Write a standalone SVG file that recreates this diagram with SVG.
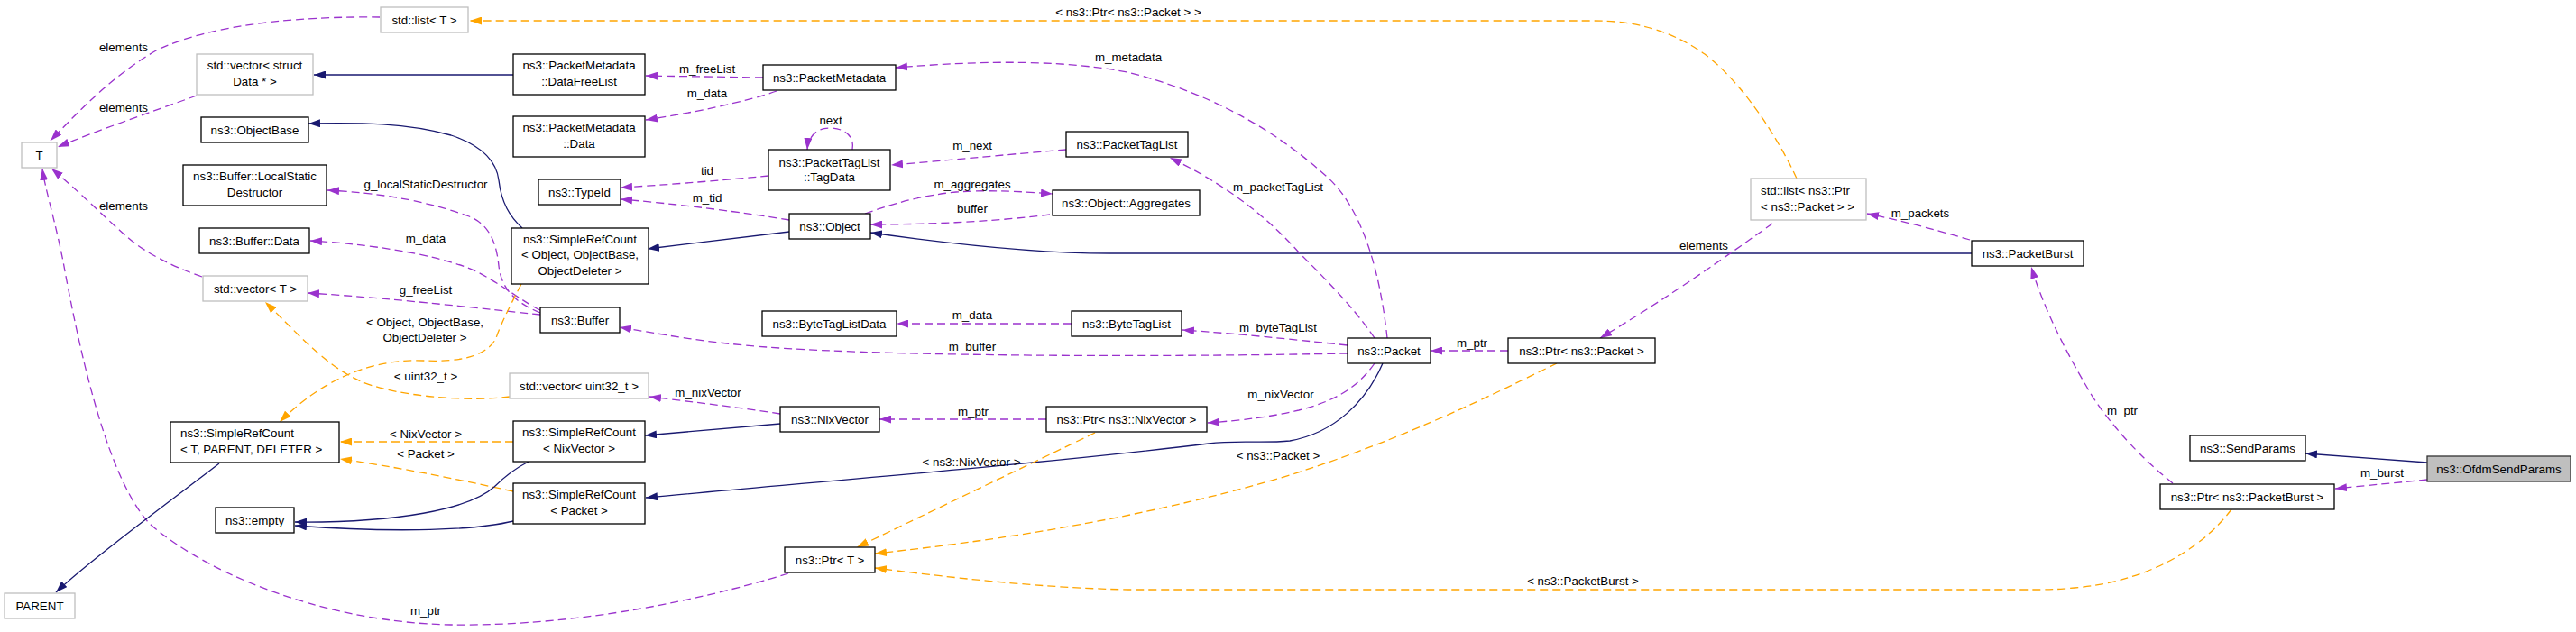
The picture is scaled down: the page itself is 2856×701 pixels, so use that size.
<svg xmlns="http://www.w3.org/2000/svg" width="2856" height="701" viewBox="0 0 2856 701">
<style>
text{font-family:"Liberation Sans",Arial,Helvetica,sans-serif;font-size:13.33px;fill:#000}
.c{text-anchor:middle}
.l{text-anchor:start}
rect{fill:#fff;stroke:#000;stroke-width:1.3}
.g rect{stroke:#bfbfbf}
.f rect{fill:#bfbfbf;stroke:#333}
.e path{fill:none;stroke-width:1.3}
path.p{stroke:#9a32cd;stroke-dasharray:9,5;marker-end:url(#ap)}
path.o{stroke:#ffa500;stroke-dasharray:9,5;marker-end:url(#ao)}
path.b{stroke:#191970;marker-end:url(#ab)}
</style>
<defs>
<marker id="ap" viewBox="0 0 13 9" refX="13" refY="4.5" markerUnits="userSpaceOnUse" markerWidth="13" markerHeight="9" orient="auto"><path d="M0,0 L13,4.5 L0,9 z" fill="#9a32cd"/></marker>
<marker id="ao" viewBox="0 0 13 9" refX="13" refY="4.5" markerUnits="userSpaceOnUse" markerWidth="13" markerHeight="9" orient="auto"><path d="M0,0 L13,4.5 L0,9 z" fill="#ffa500"/></marker>
<marker id="ab" viewBox="0 0 13 9" refX="13" refY="4.5" markerUnits="userSpaceOnUse" markerWidth="13" markerHeight="9" orient="auto"><path d="M0,0 L13,4.5 L0,9 z" fill="#191970"/></marker>
</defs>
<rect x="0" y="0" width="2856" height="701" style="fill:#fff;stroke:none"/>

<g id="connectors" class="e">
<path class="p" d="M421,19 C340,18 240,25 175,55 C130,80 90,120 56,156"/>
<path class="p" d="M218,106 C180,120 120,140 64,163"/>
<path class="p" d="M224,307 C190,295 160,280 140,262 C115,240 85,210 57,187"/>
<path class="p" d="M874,636 C780,665 640,695 500,693 C350,690 220,630 165,580 C120,530 90,400 70,290 C60,240 50,210 47,187"/>
<path class="p" d="M599,347 C570,335 556,320 553,295 C550,265 540,248 520,240 C470,222 420,214 363,211"/>
<path class="p" d="M599,344 C580,335 560,318 530,302 C500,287 430,272 344,267"/>
<path class="p" d="M599,349 C540,343 440,331 341,325"/>
<path class="p" d="M1494,392 C1300,396 1000,396 850,385 C780,380 730,370 687,363"/>
<path class="o" d="M578,315 C565,340 555,360 550,375 C540,395 510,402 470,400 C420,398 380,415 350,435 C335,445 320,458 310,468"/>
<path class="o" d="M565,440 C520,446 440,440 400,423 C360,405 330,370 294,335"/>
<path class="o" d="M569,490 L377,490"/>
<path class="o" d="M569,545 C500,530 440,518 377,509"/>
<path class="b" d="M243,514 C210,540 100,620 62,657"/>
<path class="b" d="M586,512 C570,520 558,530 548,540 C520,565 440,580 327,579"/>
<path class="b" d="M569,578 C520,590 420,590 327,583"/>
<path class="b" d="M579,253 C565,240 556,225 553,200 C550,175 530,160 500,150 C450,136 400,136 342,137"/>
<path class="b" d="M875,257 L718,276"/>
<path class="b" d="M2186,281 L1230,281 C1150,281 1050,270 965,258"/>
<path class="b" d="M865,470 L715,483"/>
<path class="b" d="M1533,403 C1515,445 1480,480 1430,489 C1400,492 1370,488 1340,492 C1150,515 900,535 716,552"/>
<path class="b" d="M2691,513 L2556,503"/>
<path class="b" d="M569,83 L348,83"/>
<path class="p" d="M846,86 L716,84"/>
<path class="p" d="M861,101 C830,112 770,125 716,133"/>
<path class="p" d="M945,166 C948,150 935,142 920,142 C905,142 896,152 895,166"/>
<path class="p" d="M852,195 C800,200 740,205 688,208"/>
<path class="p" d="M875,244 C820,235 750,226 688,221"/>
<path class="p" d="M1182,166 C1120,171 1050,178 988,183"/>
<path class="p" d="M959,237 C990,226 1020,217 1060,213 C1100,210 1140,213 1167,215"/>
<path class="p" d="M1164,238 C1100,246 1030,249 965,249"/>
<path class="p" d="M1538,375 C1530,300 1510,230 1470,195 C1420,150 1350,105 1250,80 C1170,65 1080,68 993,75"/>
<path class="p" d="M1524,375 C1500,340 1470,310 1440,280 C1400,235 1350,200 1297,175"/>
<path class="p" d="M1188,359 L994,359"/>
<path class="p" d="M1494,383 C1430,376 1370,370 1311,366"/>
<path class="p" d="M865,459 C820,452 770,446 720,440"/>
<path class="p" d="M1160,465 L975,465"/>
<path class="p" d="M1524,403 C1505,430 1480,445 1440,455 C1410,462 1380,466 1339,469"/>
<path class="p" d="M1672,389 L1586,389"/>
<path class="p" d="M1965,248 C1920,280 1850,330 1774,375"/>
<path class="p" d="M2184,266 C2150,256 2110,245 2070,237"/>
<path class="p" d="M2409,536 C2370,505 2340,470 2320,440 C2290,390 2265,340 2252,296"/>
<path class="p" d="M2691,532 L2589,542"/>
<path class="o" d="M1992,198 C1970,150 1930,90 1890,60 C1850,32 1810,23 1767,23 L521,23"/>
<path class="o" d="M1214,480 L950,607"/>
<path class="o" d="M1726,403 C1650,440 1550,490 1420,530 C1300,565 1150,595 970,614"/>
<path class="o" d="M2474,565 C2440,610 2380,645 2300,652 C2280,654 2270,654 2250,654 L1251,654 C1150,652 1050,640 970,630"/>
<g class="c">
<text x="137" y="57">elements</text>
<text x="137" y="123.5">elements</text>
<text x="137" y="232.5">elements</text>
<text x="472" y="681.5">m_ptr</text>
<text x="472" y="209">g_localStaticDestructor</text>
<text x="472" y="269">m_data</text>
<text x="472" y="325.5">g_freeList</text>
<text x="1078" y="389">m_buffer</text>
<text x="471" y="361.5">&lt; Object, ObjectBase,</text>
<text x="471" y="379">ObjectDeleter &gt;</text>
<text x="472" y="422">&lt; uint32_t &gt;</text>
<text x="472" y="485.5">&lt; NixVector &gt;</text>
<text x="472" y="508">&lt; Packet &gt;</text>
<text x="784" y="81">m_freeList</text>
<text x="784" y="107.5">m_data</text>
<text x="921" y="137.5">next</text>
<text x="784" y="193.5">tid</text>
<text x="784" y="223.5">m_tid</text>
<text x="1078" y="165.5">m_next</text>
<text x="1078" y="209">m_aggregates</text>
<text x="1078" y="236">buffer</text>
<text x="1251" y="68">m_metadata</text>
<text x="1417" y="211.5">m_packetTagList</text>
<text x="1078" y="354">m_data</text>
<text x="1417" y="367.5">m_byteTagList</text>
<text x="785" y="439.5">m_nixVector</text>
<text x="1079" y="461">m_ptr</text>
<text x="1420" y="441.5">m_nixVector</text>
<text x="1632" y="385">m_ptr</text>
<text x="1889" y="276.5">elements</text>
<text x="2129" y="240.5">m_packets</text>
<text x="2353" y="460">m_ptr</text>
<text x="2641" y="529">m_burst</text>
<text x="1251" y="17.5">&lt; ns3::Ptr&lt; ns3::Packet &gt; &gt;</text>
<text x="1077" y="516.5">&lt; ns3::NixVector &gt;</text>
<text x="1417" y="510">&lt; ns3::Packet &gt;</text>
<text x="1755" y="649">&lt; ns3::PacketBurst &gt;</text>
</g>
</g>

<g id="n_T" class="g"><rect x="24" y="158" width="39" height="28"/><text class="c" x="43.5" y="176.7">T</text></g>
<g id="n_PARENT" class="g"><rect x="5" y="658" width="78" height="28"/><text class="c" x="44" y="676.7">PARENT</text></g>
<g id="n_listT" class="g"><rect x="422" y="8" width="97" height="28"/><text class="c" x="470.5" y="26.7">std::list&lt; T &gt;</text></g>
<g id="n_vecData" class="g"><rect x="218" y="60" width="129" height="45"/><text class="c" x="282.5" y="77.4">std::vector&lt; struct</text><text class="c" x="282.5" y="94.7">Data * &gt;</text></g>
<g id="n_ObjectBase"><rect x="223" y="130" width="119" height="28"/><text class="c" x="282.5" y="148.7">ns3::ObjectBase</text></g>
<g id="n_LocalStaticDestructor"><rect x="203" y="183" width="159" height="45"/><text class="c" x="282.5" y="200.4">ns3::Buffer::LocalStatic</text><text class="c" x="282.5" y="217.7">Destructor</text></g>
<g id="n_BufferData"><rect x="221" y="253" width="122" height="28"/><text class="c" x="282" y="271.7">ns3::Buffer::Data</text></g>
<g id="n_vecT" class="g"><rect x="225" y="306" width="116" height="28"/><text class="c" x="283" y="324.7">std::vector&lt; T &gt;</text></g>
<g id="n_SimpleRefCountT"><rect x="189" y="468" width="187" height="45"/><text class="l" x="200" y="485.4">ns3::SimpleRefCount</text><text class="l" x="200" y="502.7">&lt; T, PARENT, DELETER &gt;</text></g>
<g id="n_empty"><rect x="239" y="563" width="87" height="28"/><text class="c" x="282.5" y="581.7">ns3::empty</text></g>
<g id="n_DataFreeList"><rect x="569" y="60" width="146" height="45"/><text class="c" x="642" y="77.4">ns3::PacketMetadata</text><text class="c" x="642" y="94.7">::DataFreeList</text></g>
<g id="n_PMData"><rect x="569" y="129" width="146" height="45"/><text class="c" x="642" y="146.4">ns3::PacketMetadata</text><text class="c" x="642" y="163.7">::Data</text></g>
<g id="n_TypeId"><rect x="597" y="199" width="91" height="28"/><text class="c" x="642.5" y="217.7">ns3::TypeId</text></g>
<g id="n_SimpleRefCountObject"><rect x="567" y="253" width="152" height="62"/><text class="c" x="643" y="270.4">ns3::SimpleRefCount</text><text class="c" x="643" y="287.4">&lt; Object, ObjectBase,</text><text class="c" x="643" y="304.7">ObjectDeleter &gt;</text></g>
<g id="n_Buffer"><rect x="599" y="341" width="88" height="28"/><text class="c" x="643" y="359.7">ns3::Buffer</text></g>
<g id="n_vecU32" class="g"><rect x="565" y="414" width="154" height="28"/><text class="c" x="642" y="432.7">std::vector&lt; uint32_t &gt;</text></g>
<g id="n_SimpleRefCountNix"><rect x="569" y="467" width="146" height="45"/><text class="c" x="642" y="484.4">ns3::SimpleRefCount</text><text class="c" x="642" y="501.7">&lt; NixVector &gt;</text></g>
<g id="n_SimpleRefCountPkt"><rect x="569" y="536" width="146" height="45"/><text class="c" x="642" y="553.4">ns3::SimpleRefCount</text><text class="c" x="642" y="570.7">&lt; Packet &gt;</text></g>
<g id="n_PacketMetadata"><rect x="846" y="72" width="147" height="28"/><text class="c" x="919.5" y="90.7">ns3::PacketMetadata</text></g>
<g id="n_TagData"><rect x="852" y="166" width="135" height="45"/><text class="c" x="919.5" y="184.7">ns3::PacketTagList</text><text class="c" x="919.5" y="201.4">::TagData</text></g>
<g id="n_Object"><rect x="875" y="237" width="90" height="28"/><text class="c" x="920" y="255.7">ns3::Object</text></g>
<g id="n_ByteTagListData"><rect x="845" y="345" width="149" height="28"/><text class="c" x="919.5" y="363.7">ns3::ByteTagListData</text></g>
<g id="n_NixVector"><rect x="865" y="451" width="110" height="28"/><text class="c" x="920" y="469.7">ns3::NixVector</text></g>
<g id="n_PtrT"><rect x="870" y="607" width="100" height="28"/><text class="c" x="920" y="625.7">ns3::Ptr&lt; T &gt;</text></g>
<g id="n_PacketTagList"><rect x="1182" y="146" width="135" height="28"/><text class="c" x="1249.5" y="164.7">ns3::PacketTagList</text></g>
<g id="n_Aggregates"><rect x="1167" y="211" width="163" height="28"/><text class="c" x="1248.5" y="229.7">ns3::Object::Aggregates</text></g>
<g id="n_ByteTagList"><rect x="1188" y="345" width="122" height="28"/><text class="c" x="1249" y="363.7">ns3::ByteTagList</text></g>
<g id="n_PtrNixVector"><rect x="1160" y="451" width="178" height="28"/><text class="c" x="1249" y="469.7">ns3::Ptr&lt; ns3::NixVector &gt;</text></g>
<g id="n_Packet"><rect x="1494" y="375" width="92" height="28"/><text class="c" x="1540" y="393.7">ns3::Packet</text></g>
<g id="n_PtrPacket"><rect x="1672" y="375" width="163" height="28"/><text class="c" x="1753.5" y="393.7">ns3::Ptr&lt; ns3::Packet &gt;</text></g>
<g id="n_listPtrPacket" class="g"><rect x="1941" y="198" width="128" height="46"/><text class="l" x="1952" y="216.4">std::list&lt; ns3::Ptr</text><text class="l" x="1952" y="233.7">&lt; ns3::Packet &gt; &gt;</text></g>
<g id="n_PacketBurst"><rect x="2186" y="267" width="124" height="28"/><text class="c" x="2248" y="285.7">ns3::PacketBurst</text></g>
<g id="n_SendParams"><rect x="2428" y="483" width="128" height="28"/><text class="c" x="2492" y="501.7">ns3::SendParams</text></g>
<g id="n_PtrPacketBurst"><rect x="2395" y="537" width="193" height="28"/><text class="c" x="2491.5" y="555.7">ns3::Ptr&lt; ns3::PacketBurst &gt;</text></g>
<g id="n_OfdmSendParams" class="f"><rect x="2691" y="506" width="159" height="28"/><text class="c" x="2770.5" y="524.7">ns3::OfdmSendParams</text></g>
</svg>
